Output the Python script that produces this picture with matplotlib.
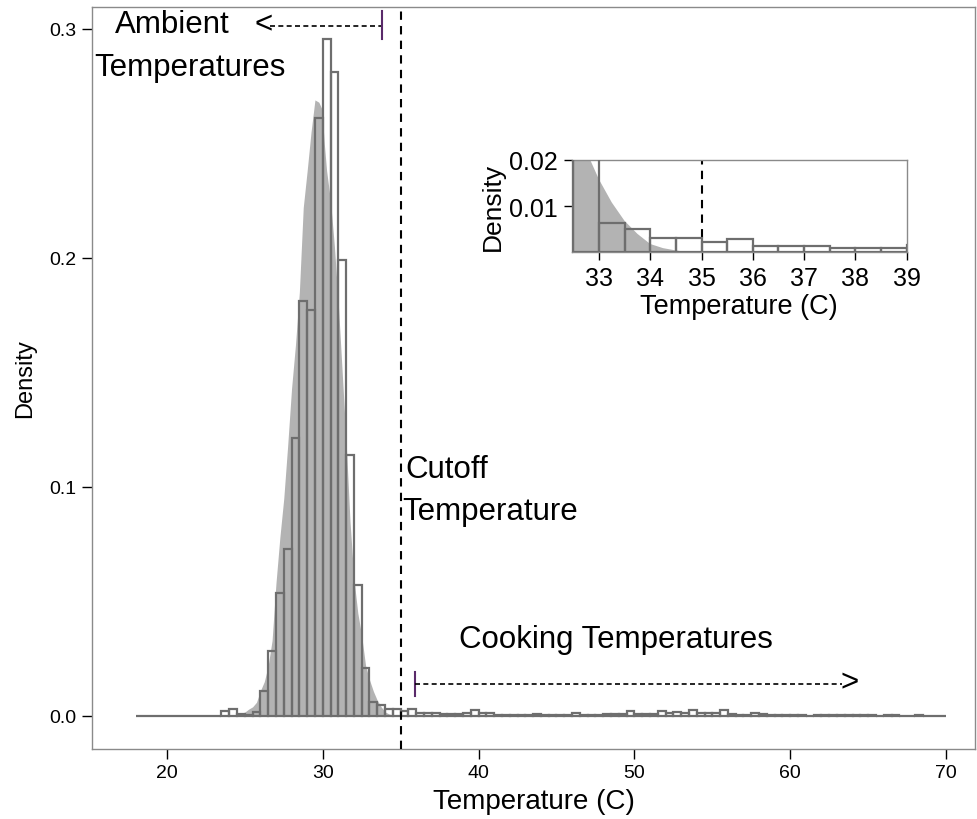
import matplotlib

matplotlib.use("Agg")
import matplotlib.pyplot as plt  # noqa: E402
import numpy as np  # noqa: E402

plt.rcParams["font.family"] = ["Liberation Sans", "DejaVu Sans"]

# observed temperatures: 0.5 C bins from 18 to 70, density per bin
bin_width = 0.5
bin_start = 18.0
hist_density = [
    0, 0,  0, 0,  0, 0,  0, 0,  0, 0,              # 18-22.5
    0, 0.002,  0.003, 0.0007,  0.0005, 0.0016,    # 23-25.5
    0.0109, 0.0283,  0.0537, 0.0729,  0.1214, 0.181,
    0.1773, 0.261,  0.2956, 0.2814,  0.1993, 0.114,
    0.0572, 0.021,  0.0063, 0.0050,  0.0032, 0.0032,  # 32-34.5
    0.0023, 0.0029,  0.0013, 0.0013,  0.0014, 0.0009,
    0.0009, 0.0009,  0.0015, 0.0028,  0.0013, 0.0013,  # 38-40.5
    0.0004, 0.0004,  0.0004, 0.0004,  0.0004, 0.001,
    0.0004, 0.0004,  0.0004, 0.0004,  0.0012, 0.0004,  # 44-46.5
    0.0004, 0.0004,  0.001, 0.001,  0.001, 0.002,
    0.001, 0.001,  0.001, 0.002,  0.0012, 0.0018,      # 50-52.5
    0.0012, 0.0025,  0.0015, 0.0015,  0.0015, 0.0025,
    0.0008, 0.0004,  0.0004, 0.0013,  0.0008, 0.0004,  # 56-58.5
    0.0004, 0.0004,  0.0004, 0.0004,  0.0, 0.0004,
    0.0004, 0.0004,  0.0004, 0.0004,  0.0004, 0.0004,  # 62-64.5
    0.0004, 0.0,  0.0004, 0.0004,  0.0, 0.0,
    0.0004, 0.0,  0.0, 0.0,                            # 68-69.5
]

# ambient (fitted) density, shaded grey
amb_temp = [24.5, 25.0, 25.25, 25.5, 25.75, 26.0, 26.25, 26.5, 26.75, 27.0,
            27.25, 27.5, 27.75, 28.0, 28.25, 28.5, 28.75, 29.0, 29.25, 29.5,
            29.75, 29.95, 30.1, 30.25, 30.5, 30.75, 31.0, 31.25, 31.5, 31.75,
            32.0, 32.25, 32.5, 32.75, 33.0, 33.25, 33.5, 33.75, 34.0, 34.25,
            34.5, 34.75]
amb_density = [0.0008, 0.0017, 0.003, 0.004, 0.006, 0.011, 0.015, 0.022, 0.033, 0.058,
               0.078, 0.095, 0.118, 0.143, 0.162, 0.185, 0.222, 0.238, 0.255, 0.269,
               0.268, 0.265, 0.25, 0.238, 0.225, 0.205, 0.18, 0.15, 0.12, 0.085,
               0.06, 0.045, 0.035, 0.022, 0.0158, 0.0108, 0.0068, 0.004, 0.0018, 0.0009,
               0.0004, 0.0]

cutoff = 35
main_xticks = [20, 30, 40, 50, 60, 70]
main_yticks = [0.0, 0.1, 0.2, 0.3]
inset_xticks = [33, 34, 35, 36, 37, 38, 39]
inset_yticks = [0.01, 0.02]

FILL = "#b3b3b3"
EDGE = "#6e6e6e"
SPINE = "#8a8a8a"

lefts = bin_start + bin_width * np.arange(len(hist_density))


def draw_hist(ax, lw):
    # white bars, grey density over them, then the bar outlines on top
    ax.bar(lefts, hist_density, width=bin_width, align="edge",
           color="white", edgecolor="none", zorder=1)
    ax.fill_between(amb_temp, amb_density, 0, color=FILL, lw=0, zorder=2)
    ax.bar(lefts, hist_density, width=bin_width, align="edge",
           fill=False, edgecolor=EDGE, linewidth=lw, zorder=3)


def style_axes(ax, size, length):
    for s in ax.spines.values():
        s.set_color(SPINE)
        s.set_linewidth(1.0)
    ax.tick_params(direction="out", length=length, width=1, color="black",
                   labelsize=size, pad=4)


fig = plt.figure(figsize=(9.78, 8.2), dpi=100)

ax = fig.add_axes([0.094, 0.0854, 0.903, 0.9049])
draw_hist(ax, 1.6)
ax.axvline(cutoff, color="black", lw=1.5, ls=(0, (4, 3)), zorder=4)
ax.set_xlim(15.19, 71.86)
ax.set_ylim(-0.0144, 0.3096)
ax.set_xticks(main_xticks)
ax.set_yticks(main_yticks)
ax.set_yticklabels([f"{v:.1f}" for v in main_yticks])
style_axes(ax, 14, 7)
ax.set_xlabel("Temperature (C)", fontsize=20, labelpad=5)
ax.set_ylabel("Density", fontsize=17, labelpad=10)

ann = dict(fontsize=22.5, color="black", zorder=5)
ax.text(20.32, 0.3022, "Ambient", ha="center", va="center", **ann)
ax.text(21.48, 0.2834, "Temperatures", ha="center", va="center", **ann)
ax.text(25.6, 0.3022, "<", ha="left", va="center", **ann)
ax.plot([26.6, 33.8], [0.3013, 0.3013], color="black", lw=1.2, ls=(0, (3, 2)))
ax.plot([33.8, 33.8], [0.2956, 0.3079], color="#5a2a6a", lw=1.5)

ax.text(35.28, 0.1079, "Cutoff", ha="left", va="center", **ann)
ax.text(35.1, 0.0895, "Temperature", ha="left", va="center", **ann)

ax.text(38.74, 0.0336, "Cooking Temperatures", ha="left", va="center", **ann)
ax.plot([35.92, 35.92], [0.0087, 0.0192], color="#5a2a6a", lw=1.5)
ax.plot([35.92, 63.3], [0.014, 0.014], color="black", lw=1.2, ls=(0, (3, 2)))
ax.text(63.2, 0.0145, ">", ha="left", va="center", **ann)

# zoomed inset around the cutoff
ins = fig.add_axes([0.5846, 0.6911, 0.3425, 0.1126])
ins.axvline(cutoff, color="black", lw=1.5, ls=(0, (4, 3)), zorder=0.5)
draw_hist(ins, 1.6)
ins.set_xlim(32.47, 39)
ins.set_ylim(0, 0.02)
ins.set_xticks(inset_xticks)
ins.set_yticks(inset_yticks)
ins.set_yticklabels([f"{v:.2f}" for v in inset_yticks])
style_axes(ins, 18, 6)
ins.set_xlabel("Temperature (C)", fontsize=19.5, labelpad=2)
ins.set_ylabel("Density", fontsize=19, labelpad=3)

fig.savefig("out.png", dpi=100)
